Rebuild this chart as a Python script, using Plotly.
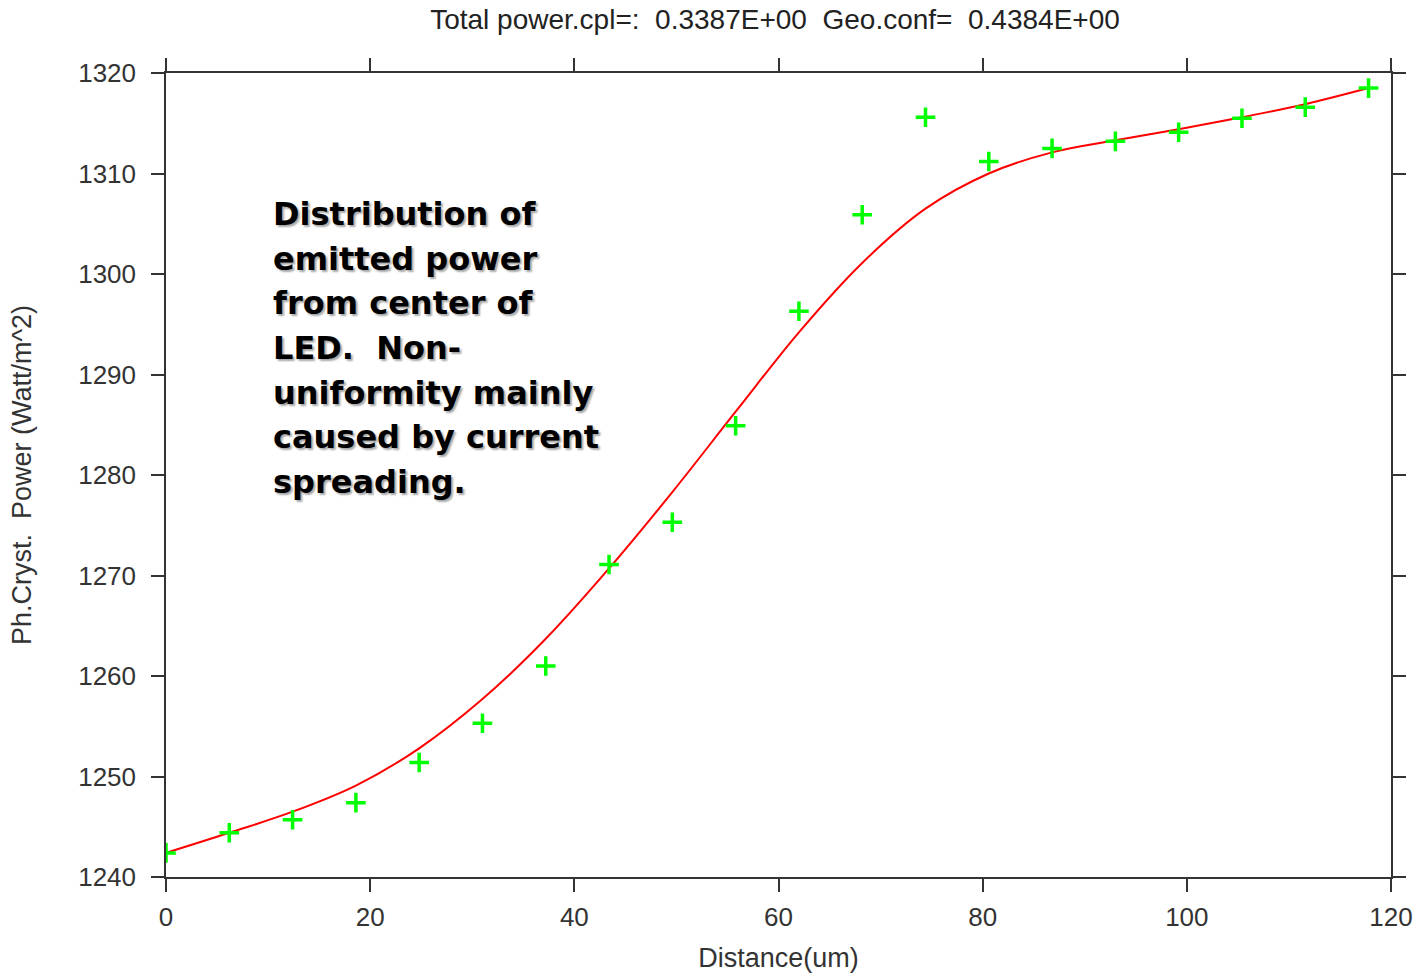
import plotly.graph_objects as go

# Data
distance = [0, 6.2, 12.4, 18.6, 24.8, 31.0, 37.2, 43.4, 49.6, 55.8,
            62.0, 68.2, 74.4, 80.6, 86.8, 93.0, 99.2, 105.4, 111.6, 117.8]
power_points = [1242.4, 1244.4, 1245.7, 1247.4, 1251.4, 1255.3, 1261.0, 1271.1, 1275.3, 1284.9,
                1296.3, 1305.9, 1315.6, 1311.2, 1312.5, 1313.2, 1314.1, 1315.5, 1316.6, 1318.5]
power_fit = [1242.4, 1244.4, 1246.5, 1249.1, 1252.8, 1257.7, 1263.7, 1270.7, 1278.3, 1286.3,
             1294.2, 1301.1, 1306.5, 1310.0, 1312.1, 1313.3, 1314.4, 1315.6, 1316.9, 1318.5]

x_ticks = [0, 20, 40, 60, 80, 100, 120]
y_ticks = [1240, 1250, 1260, 1270, 1280, 1290, 1300, 1310, 1320]

title_text = "Total power.cpl=:\u00a0 0.3387E+00\u00a0 Geo.conf=\u00a0 0.4384E+00"
x_title = "Distance(um)"
y_title = "Ph.Cryst.\u00a0 Power (Watt/m^2)"
note_lines = ["Distribution of", "emitted power", "from center of", "LED.\u00a0 Non-",
              "uniformity mainly", "caused by current", "spreading."]

AX = "#333333"
FONT = "Liberation Sans, Arial, sans-serif"

fig = go.Figure()
fig.add_trace(go.Scatter(x=distance, y=power_fit, mode="lines",
                         line=dict(color="#ff0000", width=2, shape="spline", smoothing=1.0),
                         showlegend=False, hoverinfo="skip"))
fig.add_trace(go.Scatter(x=distance, y=power_points, mode="markers",
                         marker=dict(symbol="cross-thin", size=14,
                                     line=dict(color="#00ff00", width=3.5)),
                         showlegend=False))

axis_common = dict(showgrid=False, zeroline=False, showline=True, linecolor=AX, linewidth=1.5,
                   mirror="allticks", ticks="outside", ticklen=13, tickwidth=1.5, tickcolor=AX,
                   automargin=False,
                   tickfont=dict(family=FONT, size=26, color="#333333"))

fig.update_xaxes(range=[0, 120], tickvals=x_ticks, ticktext=[str(v) for v in x_ticks],
                 ticklabelstandoff=3,
                 title=dict(text=x_title, font=dict(family=FONT, size=27, color="#333333"), standoff=17),
                 **axis_common)
fig.update_yaxes(range=[1240, 1320], tickvals=y_ticks, ticktext=[str(v) for v in y_ticks],
                 ticklabelstandoff=10,
                 title=dict(text=y_title, font=dict(family=FONT, size=27, color="#333333"), standoff=39),
                 **axis_common)

# multi-line note, one annotation per line for exact spacing
line_centers_px = [214, 259, 303, 348, 393, 437, 482]
plot_top, plot_bottom = 73, 877.5
for txt, py in zip(note_lines, line_centers_px):
    fig.add_annotation(text=txt, xref="paper", yref="paper",
                       x=(271 - 166) / (1391 - 166), y=1 - (py - plot_top) / (plot_bottom - plot_top),
                       xanchor="left", yanchor="middle", showarrow=False, align="left",
                       font=dict(family="DejaVu Sans", size=32, color="#000000", weight="bold",
                                 shadow="2px 2px 2px rgba(0,0,0,0.35)"))

fig.update_layout(
    width=1423, height=975,
    margin=dict(l=166, r=32, t=73, b=97.5, autoexpand=False),
    paper_bgcolor="white", plot_bgcolor="white",
    title=dict(text=title_text, x=775 / 1423, xanchor="center", y=1 - 19 / 975, yanchor="middle",
               xref="container", yref="container",
               font=dict(family=FONT, size=28, color="#222222")),
)

fig.write_html("out.html")
